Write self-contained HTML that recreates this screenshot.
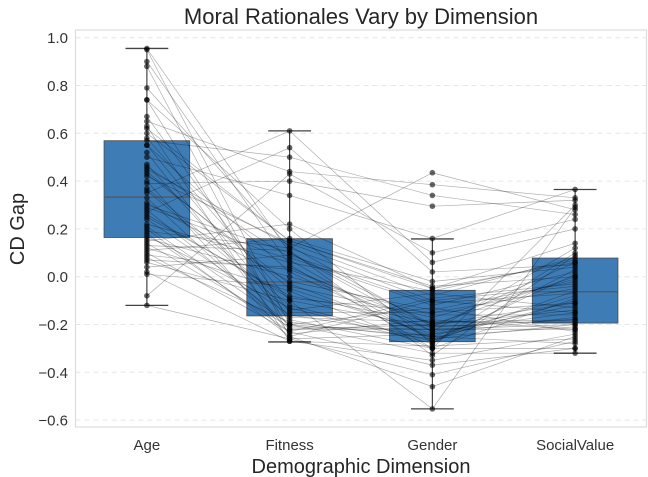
<!DOCTYPE html>
<html><head><meta charset="utf-8"><style>
html,body{margin:0;padding:0;background:#fff;}
svg{display:block;font-family:"Liberation Sans",Arial,sans-serif;}
</style></head><body>
<svg id="chart" width="648" height="477" viewBox="0 0 648 477">
<rect x="0" y="0" width="648" height="477" fill="#fff"/>
<text x="361" y="24" font-size="22" fill="#262626" text-anchor="middle">Moral Rationales Vary by Dimension</text>
<text x="361" y="473" font-size="20" fill="#262626" text-anchor="middle">Demographic Dimension</text>
<text transform="translate(24,229) rotate(-90)" font-size="20" fill="#262626" text-anchor="middle">CD Gap</text>
<g id="grid"></g>
<g id="boxes"></g>
<g id="lines"></g>
<g id="points"></g>
<g id="axes"></g>
<rect x="75.5" y="30" width="571" height="397" fill="none" stroke="#dcdcdc" stroke-width="1.2"/>
</svg>
<script>
const categories = ["Age","Fitness","Gender","SocialValue"];
const yTicks = [1.0,0.8,0.6,0.4,0.2,0.0,-0.2,-0.4,-0.6];
const yTickLabels = ["1.0","0.8","0.6","0.4","0.2","0.0","−0.2","−0.4","−0.6"];
const q1Values = [0.164,-0.164,-0.272,-0.194];
const medianValues = [0.333,-0.022,-0.205,-0.063];
const q3Values = [0.569,0.159,-0.057,0.078];
const whiskerLow = [-0.12,-0.273,-0.553,-0.32];
const whiskerHigh = [0.955,0.61,0.158,0.365];
const ageValues = [0.955,0.95,0.9,0.88,0.79,0.74,0.74,0.67,0.65,0.63,0.6,0.58,0.57,0.55,0.52,0.5,0.47,0.46,0.44,0.42,0.4,0.39,0.37,0.35,0.33,0.31,0.3,0.28,0.27,0.25,0.24,0.22,0.2,0.19,0.17,0.16,0.15,0.14,0.12,0.11,0.1,0.09,0.08,0.06,0.04,0.02,0.01,-0.08,-0.12,0.45,0.36,0.29,0.21,0.13,0.55,0.62,0.43,0.18,0.07,0.26];
const fitnessValues = [0.1,-0.2,0.05,-0.25,0.12,-0.22,0.2,-0.15,0.44,-0.27,0.15,-0.1,0.5,0.02,-0.24,0.34,-0.18,0.08,-0.05,0.14,-0.26,0.4,-0.12,0.61,-0.22,-0.02,0.1,-0.2,0.54,-0.08,-0.16,0.06,-0.25,0.12,-0.13,0.0,0.22,-0.21,-0.06,0.16,-0.23,0.03,-0.19,-0.1,0.09,-0.27,-0.04,0.43,-0.26,0.13,-0.14,0.07,-0.2,0.11,-0.17,0.15,-0.03,-0.23,0.04,-0.09];
const genderValues = [-0.2,-0.25,-0.3,-0.1,0.435,-0.22,-0.28,-0.15,0.385,-0.35,-0.05,-0.21,0.34,-0.26,-0.18,0.16,-0.3,-0.12,-0.24,-0.08,-0.41,0.295,-0.27,0.06,-0.2,-0.14,-0.23,-0.32,0.02,-0.19,-0.25,-0.06,-0.46,-0.1,-0.28,-0.16,-0.05,-0.22,-0.3,-0.02,-0.37,-0.2,-0.26,-0.553,-0.11,-0.29,-0.17,0.1,-0.24,-0.21,-0.07,-0.27,-0.13,-0.33,-0.19,-0.04,-0.25,-0.09,-0.23,-0.15];
const socialValues = [0.0,-0.28,0.3,-0.15,0.28,-0.2,0.1,-0.05,0.33,-0.24,0.06,-0.18,0.26,-0.1,-0.22,0.365,-0.3,0.02,-0.12,0.08,-0.27,0.32,-0.06,0.2,-0.14,-0.02,0.12,-0.32,0.05,-0.19,-0.08,0.07,-0.25,-0.04,0.03,-0.16,0.14,-0.22,-0.09,0.04,-0.3,-0.11,-0.2,0.29,-0.07,-0.26,-0.01,0.24,-0.17,0.06,-0.13,0.01,-0.23,0.09,-0.18,0.0,-0.21,-0.03,-0.15,-0.11];

const NS="http://www.w3.org/2000/svg";
const X0=75.5, X1=646.5, slot=(X1-X0)/categories.length;
function xScale(i){return X0+slot*(i+0.5);}
function yScale(v){return 276.7 - v*239;}
function mk(tag,attrs,parent){const e=document.createElementNS(NS,tag);for(const k in attrs)e.setAttribute(k,attrs[k]);parent.appendChild(e);return e;}
const grid=document.getElementById('grid'),boxes=document.getElementById('boxes'),lines=document.getElementById('lines'),points=document.getElementById('points'),axes=document.getElementById('axes');

yTicks.forEach((t,i)=>{
  const y=yScale(t);
  const g=mk('line',{x1:X0,x2:X1,y1:y,y2:y,stroke:'#e6e6e6','stroke-dasharray':'5,4','stroke-width':1},grid);
  
  
  const tx=mk('text',{x:68,y:y+5.5,'font-size':15,fill:'#333','text-anchor':'end'},axes);
  tx.textContent=yTickLabels[i];
  
  
});
categories.forEach((c,i)=>{
  const tx=mk('text',{x:xScale(i),y:450,'font-size':15,fill:'#333','text-anchor':'middle'},axes);
  tx.textContent=c;
  
  
});

const bw=slot*0.6;
categories.forEach((c,i)=>{
  const cx=xScale(i);
  const g=mk('g',{},boxes);
  
  
  mk('line',{x1:cx,x2:cx,y1:yScale(whiskerHigh[i]),y2:yScale(q3Values[i]),stroke:'#444','stroke-width':1.2},g);
  mk('line',{x1:cx,x2:cx,y1:yScale(q1Values[i]),y2:yScale(whiskerLow[i]),stroke:'#444','stroke-width':1.2},g);
  mk('line',{x1:cx-bw/4,x2:cx+bw/4,y1:yScale(whiskerHigh[i]),y2:yScale(whiskerHigh[i]),stroke:'#444','stroke-width':1.3},g);
  mk('line',{x1:cx-bw/4,x2:cx+bw/4,y1:yScale(whiskerLow[i]),y2:yScale(whiskerLow[i]),stroke:'#444','stroke-width':1.3},g);
  mk('rect',{x:cx-bw/2,y:yScale(q3Values[i]),width:bw,height:yScale(q1Values[i])-yScale(q3Values[i]),fill:'#3e7cb6',stroke:'#4a4a4a','stroke-width':0.8},g);
  mk('line',{x1:cx-bw/2,x2:cx+bw/2,y1:yScale(medianValues[i]),y2:yScale(medianValues[i]),stroke:'#555','stroke-width':1.2},g);
});

const series=[ageValues,fitnessValues,genderValues,socialValues];
const n=Math.min(...series.map(s=>s.length));
for(let k=0;k<n;k++){
  const pts=series.map((s,i)=>xScale(i)+','+yScale(s[k])).join(' ');
  const pl=mk('polyline',{points:pts,fill:'none',stroke:'#000','stroke-opacity':0.32,'stroke-width':0.7},lines);
  
  
}
series.forEach((s,i)=>{
  s.forEach(v=>{
    const c=mk('circle',{cx:xScale(i),cy:yScale(v),r:2.8,fill:'#000','fill-opacity':0.6},points);
    
    
  });
});
</script>
</body></html>
